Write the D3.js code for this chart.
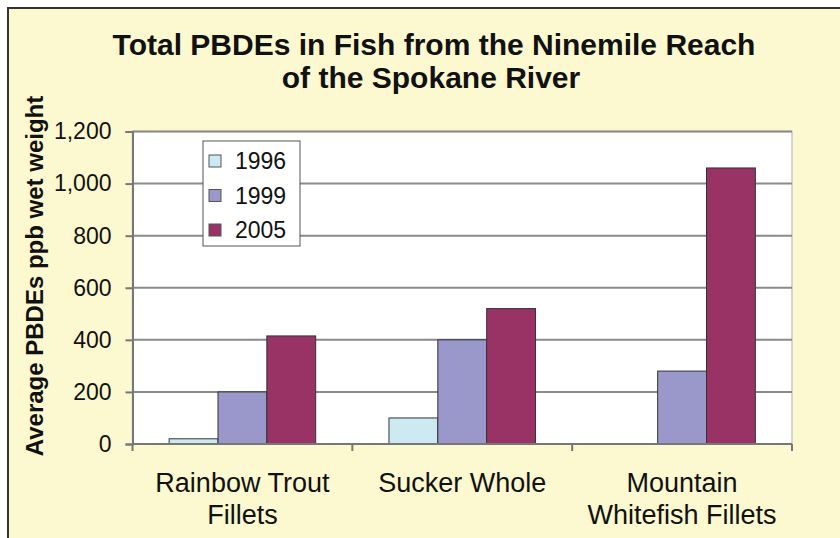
<!DOCTYPE html>
<html>
<head>
<meta charset="utf-8">
<script src="https://cdn.jsdelivr.net/npm/d3@7"></script>
<style>
  body { margin: 0; background: #fff; }
  text { font-family: "Liberation Sans", Arial, sans-serif; fill: #111; }
</style>
</head>
<body>
<div class="canvas"></div>
<script>
var categories = [["Rainbow Trout", "Fillets"], ["Sucker Whole"], ["Mountain", "Whitefish Fillets"]];
var years = ["1996", "1999", "2005"];
var values1996 = [20, 100, 0];
var values1999 = [200, 400, 280];
var values2005 = [415, 520, 1060];
var yTicks = [0, 200, 400, 600, 800, 1000, 1200];
var colors = ["#cdeaf3", "#9a98cb", "#993366"];

var series = [values1996, values1999, values2005];

var margin = {top: 131.5, right: 48, bottom: 94, left: 132.5},
    W = 840, H = 538,
    width = W - margin.left - margin.right,
    height = H - margin.top - margin.bottom;

var root = d3.select(".canvas").append("svg")
    .attr("width", W)
    .attr("height", H);

// chart area background with the dark frame on top/left
root.append("rect")
    .attr("x", 8).attr("y", 8)
    .attr("width", W).attr("height", H)
    .attr("fill", "#fcf8cf")
    .attr("stroke", "#333")
    .attr("stroke-width", 2);

root.append("text")
    .attr("x", 434).attr("y", 55)
    .attr("text-anchor", "middle")
    .style("font-weight", "bold").style("font-size", "30px")
    .text("Total PBDEs in Fish from the Ninemile Reach");
root.append("text")
    .attr("x", 431).attr("y", 88)
    .attr("text-anchor", "middle")
    .style("font-weight", "bold").style("font-size", "30px")
    .text("of the Spokane River");

root.append("text")
    .attr("transform", "translate(43,276) rotate(-90)")
    .attr("text-anchor", "middle")
    .style("font-weight", "bold").style("font-size", "24px")
    .text("Average PBDEs ppb wet weight");

var svg = root.append("g")
    .attr("transform", "translate(" + margin.left + "," + margin.top + ")");

var x0 = d3.scaleBand()
    .domain(d3.range(categories.length))
    .range([0, width]);

// 150% gap width, bars touching each other
var barW = x0.bandwidth() / (years.length + 1.5);
var x1 = d3.scaleBand()
    .domain(d3.range(years.length))
    .range([barW * 0.75, x0.bandwidth() - barW * 0.75]);

var y = d3.scaleLinear()
    .domain([0, 1200])
    .range([height, 0]);

svg.append("rect")
    .attr("width", width).attr("height", height)
    .attr("fill", "#fff")
    .attr("stroke", "#c8c8c8")
    .attr("stroke-width", 1.5);

svg.selectAll(".grid")
    .data(yTicks.slice(1))
    .enter().append("line")
    .attr("class", "grid")
    .attr("x1", 0).attr("x2", width)
    .attr("y1", function(d) { return y(d); })
    .attr("y2", function(d) { return y(d); })
    .attr("stroke", "#8a8a8a")
    .attr("stroke-width", 2);

var groups = svg.selectAll(".cat")
    .data(categories)
    .enter().append("g")
    .attr("class", "cat")
    .attr("transform", function(d, i) { return "translate(" + x0(i) + ",0)"; });

groups.selectAll("rect")
    .data(function(d, i) { return series.map(function(s, j) { return {v: s[i], j: j}; }); })
    .enter().append("rect")
    .filter(function(d) { return d.v > 0; })
    .attr("x", function(d) { return x1(d.j); })
    .attr("y", function(d) { return y(d.v); })
    .attr("width", x1.bandwidth())
    .attr("height", function(d) { return height - y(d.v); })
    .attr("fill", function(d) { return colors[d.j]; })
    .attr("stroke", "#333")
    .attr("stroke-width", 1);

// y axis
var yAxis = svg.append("g")
    .call(d3.axisLeft(y).tickValues(yTicks).tickSize(7).tickPadding(14)
        .tickFormat(d3.format(",")));
yAxis.select(".domain").attr("stroke", "#777").attr("stroke-width", 2);
yAxis.selectAll(".tick line").attr("stroke", "#777").attr("stroke-width", 2);
yAxis.selectAll("text").style("font-size", "23px").attr("fill", "#111")
    .style("font-family", "Liberation Sans, Arial, sans-serif");

// x axis
var xAxis = svg.append("g")
    .attr("transform", "translate(0," + height + ")");
xAxis.append("line")
    .attr("x1", 0).attr("x2", width)
    .attr("stroke", "#777").attr("stroke-width", 2);
xAxis.selectAll(".xt")
    .data(d3.range(categories.length + 1))
    .enter().append("line")
    .attr("class", "xt")
    .attr("x1", function(d) { return d * x0.step(); })
    .attr("x2", function(d) { return d * x0.step(); })
    .attr("y1", 0).attr("y2", 7)
    .attr("stroke", "#777").attr("stroke-width", 2);
xAxis.selectAll(".xl")
    .data(categories)
    .enter().append("text")
    .attr("class", "xl")
    .attr("text-anchor", "middle")
    .attr("x", function(d, i) { return x0(i) + x0.bandwidth() / 2; })
    .attr("y", 48)
    .style("font-size", "27px")
    .each(function(d) {
        var t = d3.select(this);
        d.forEach(function(line, k) {
            t.append("tspan")
                .attr("x", t.attr("x"))
                .attr("dy", k ? 32 : 0)
                .text(line);
        });
    });

// legend
var legend = root.append("g").attr("transform", "translate(203,141)");
legend.append("rect")
    .attr("width", 97).attr("height", 105)
    .attr("fill", "#fff")
    .attr("stroke", "#555").attr("stroke-width", 1);
var li = legend.selectAll(".li")
    .data(years)
    .enter().append("g")
    .attr("class", "li")
    .attr("transform", function(d, i) { return "translate(0," + (20 + i * 34.5) + ")"; });
li.append("rect")
    .attr("x", 6).attr("y", -6)
    .attr("width", 12).attr("height", 12)
    .attr("fill", function(d, i) { return colors[i]; })
    .attr("stroke", "#555").attr("stroke-width", 1);
li.append("text")
    .attr("x", 32).attr("y", 8)
    .style("font-size", "23px")
    .text(function(d) { return d; });
</script>
</body>
</html>
